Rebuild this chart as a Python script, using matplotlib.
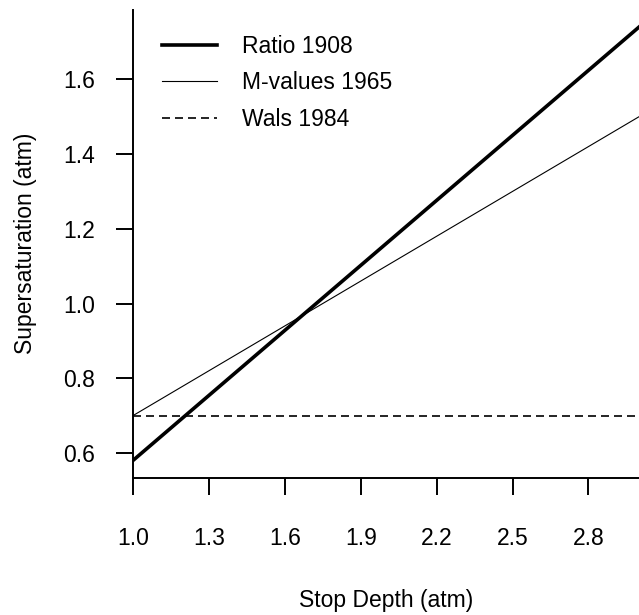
import matplotlib
matplotlib.use("Agg")
import matplotlib.pyplot as plt
import numpy as np

# Data
depth = [1.0, 3.0]
ratio_1908 = [0.58, 1.74]
mvalues_1965 = [0.70, 1.50]
wals_1984 = [0.70, 0.70]
xticks = [1.0, 1.3, 1.6, 1.9, 2.2, 2.5, 2.8]
xtick_labels = ["1.0", "1.3", "1.6", "1.9", "2.2", "2.5", "2.8"]
yticks = [0.6, 0.8, 1.0, 1.2, 1.4, 1.6]
ytick_labels = ["0.6", "0.8", "1.0", "1.2", "1.4", "1.6"]

plt.rcParams['font.family'] = ['Liberation Sans', 'DejaVu Sans']
FS = 16.5
W, H = 639, 615
fig = plt.figure(figsize=(W/100, H/100), dpi=100)
left_px, right_px, top_px, bot_px = 133, 639, 9.5, 478
ax = fig.add_axes([left_px/W, 1 - bot_px/H, (right_px-left_px)/W, (bot_px-top_px)/H])

ax.plot(depth, ratio_1908, color='black', lw=2.6, label='Ratio 1908')
ax.plot(depth, mvalues_1965, color='black', lw=0.8, label='M-values 1965')
ax.plot(depth, wals_1984, color='black', lw=1.2, dashes=(4.8, 3.0), label='Wals 1984')

ax.set_xlim(1.0, 3.0)
ax.set_ylim(0.533, 1.787)
for s in ['top', 'right']:
    ax.spines[s].set_visible(False)
for s in ['left', 'bottom']:
    ax.spines[s].set_linewidth(1.4)

ax.set_xticks(xticks)
ax.set_xticklabels(xtick_labels)
ax.set_yticks(yticks)
ax.set_yticklabels(ytick_labels)
ax.tick_params(axis='both', labelsize=FS, width=1.4, length=12.5, color='black')
ax.tick_params(axis='y', pad=15)
ax.tick_params(axis='x', pad=23)

ax.set_xlabel('Stop Depth (atm)', fontsize=FS)
ax.set_ylabel('Supersaturation (atm)', fontsize=FS)
ax.xaxis.set_label_coords(0.5, -0.236)
ax.yaxis.set_label_coords(-0.19, 0.5)

leg = ax.legend(loc='upper left', bbox_to_anchor=(162/W, 1 - 35/H), bbox_transform=fig.transFigure,
                frameon=False, fontsize=FS, handlelength=2.4, handletextpad=1.1,
                labelspacing=0.58, borderpad=0, borderaxespad=0)

fig.savefig('out.png', dpi=100)
